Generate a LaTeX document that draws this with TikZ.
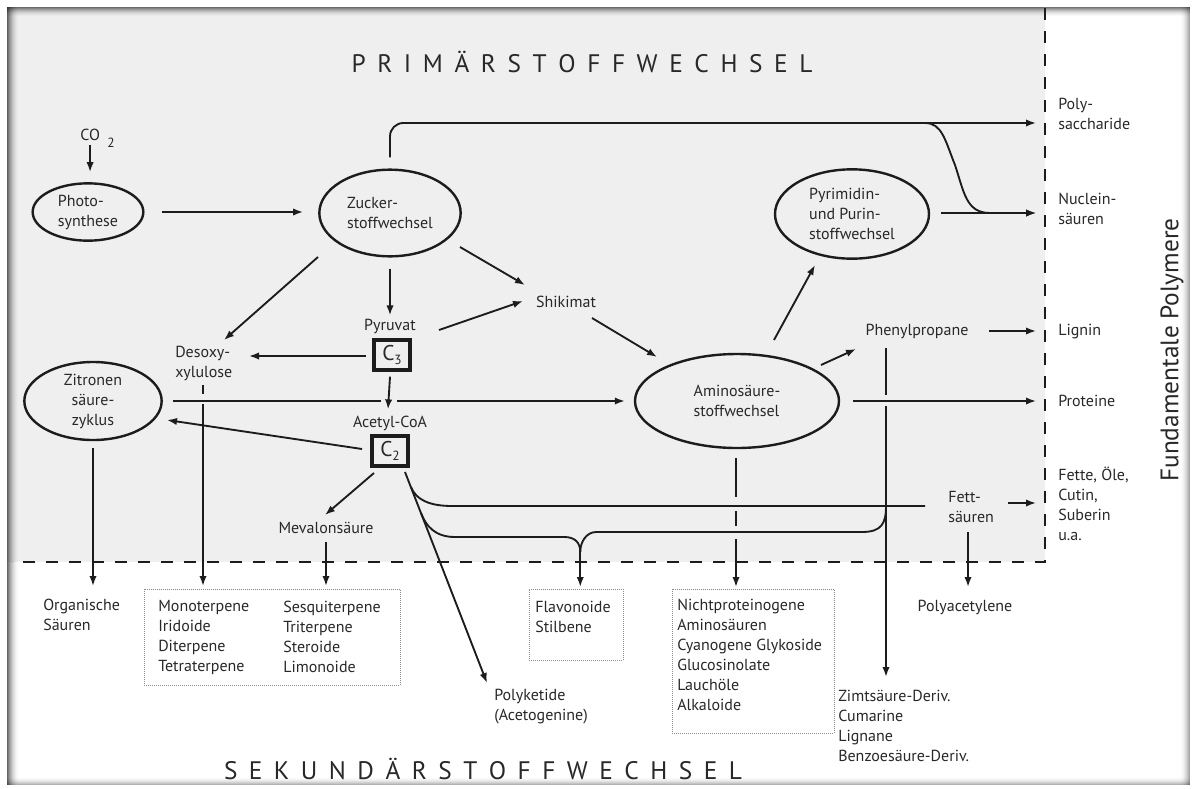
\documentclass[tikz,border=0pt]{standalone}
\usepackage{fontspec}
\setmainfont{PT Sans}
\usetikzlibrary{arrows.meta,shapes.geometric,calc}
\definecolor{bggray}{RGB}{239,239,239}
\definecolor{ink}{RGB}{28,28,28}
\definecolor{txt}{RGB}{40,40,40}
\begin{document}
\begin{tikzpicture}[x=0.75pt,y=-0.75pt,
  lbl/.style={inner sep=0pt, text=txt, font=\fontsize{12}{15}\selectfont, align=left},
  ell/.style={ellipse, draw=ink, line width=1.8pt, inner sep=0pt, text=txt, font=\fontsize{12}{15}\selectfont, align=left},
  cbox/.style={draw=ink, line width=3pt, minimum width=27.5pt, minimum height=22pt, inner sep=0pt, text=txt, font=\fontsize{16}{16}\selectfont},
  ln/.style={draw=ink, line width=1.4pt},
  arr/.style={ln, -{Latex[length=7.5pt,width=5.5pt]}},
  dotbox/.style={draw=black!45, line width=0.4pt, dash pattern=on 0.75pt off 0.75pt, inner sep=0pt},
  sepline/.style={draw=ink, line width=2pt, dash pattern=on 9pt off 8.25pt},
  title/.style={inner sep=0pt, text=txt, font=\fontsize{19}{19}\selectfont}
]
\path[use as bounding box] (0,0) rectangle (1196,789);
\fill[white] (0,0) rectangle (1196,789);
\fill[bggray] (7,7) rectangle (1045,562);
% frame shadows
\foreach \i [evaluate=\i as \op using {0.6*(1-\i/12)^2}] in {0,...,11}
  {\fill[black, opacity=\op] (7+\i,7) rectangle (8+\i,785);}
\foreach \i [evaluate=\i as \op using {0.55*(1-\i/10)^2}] in {0,...,9}
  {\fill[black, opacity=\op] (7,7+\i) rectangle (1190,8+\i);}
\foreach \i [evaluate=\i as \op using {0.35*(1-\i/10)^2}] in {0,...,9}
  {\fill[black, opacity=\op] (1190-\i,7) rectangle (1189-\i,785);}
\foreach \i [evaluate=\i as \op using {0.3*(1-\i/8)^2}] in {0,...,7}
  {\fill[black, opacity=\op] (7,785-\i) rectangle (1190,784-\i);}
% separators
\draw[sepline] (1045,8) -- (1045,562) -- (12,562);

% titles
\node[title] (prim) at (582,62) {\makebox[345.75pt][s]{P R I M Ä R S T O F F W E C H S E L}};
\node[title] (sek) at (483,769) {\makebox[388.5pt][s]{S E K U N D Ä R S T O F F W E C H S E L}};
\node[title, rotate=90] (fund) at (1172,350) {Fundamentale Polymere};

% nodes
\node[lbl, anchor=west] (co2) at (80,135) {CO};
\node[lbl, anchor=west, font=\fontsize{10}{10}\selectfont] (co2i) at (107,143) {2};
\node[ell, minimum width=83pt, minimum height=43pt] (photo) at (88,212) {Photo-\\synthese};
\node[ell, minimum width=106pt, minimum height=65pt] (zucker) at (390,213) {Zucker-\\stoffwechsel};
\node[ell, minimum width=115.5pt, minimum height=67pt] (pyr) at (852,214) {Pyrimidin-\\und Purin-\\stoffwechsel};
\node[ell, align=center, minimum width=103pt, minimum height=58.5pt] (zit) at (93,401) {Zitronen\\säure-\\zyklus};
\node[ell, minimum width=153pt, minimum height=70.5pt] (amino) at (737,401) {Aminosäure-\\stoffwechsel};
\node[lbl] (shik) at (566,302) {Shikimat};
\node[lbl] (pyruvat) at (390,326) {Pyruvat};
\node[cbox] (c3) at (392,355) {C\raisebox{-3.5pt}{\fontsize{10}{10}\selectfont 3}};
\node[lbl] (acetyl) at (390,423) {Acetyl-CoA};
\node[cbox] (c2) at (390,451) {C\raisebox{-3.5pt}{\fontsize{10}{10}\selectfont 2}};
\node[lbl, anchor=west] (desoxy) at (175,363) {Desoxy-\\xylulose};
\node[lbl] (meval) at (326,528) {Mevalonsäure};
\node[lbl] (phenyl) at (917,331) {Phenylpropane};
\node[lbl, anchor=west] (fett) at (948,507) {Fett-\\säuren};

\node[lbl, anchor=west] (poly) at (1058,114) {Poly-\\saccharide};
\node[lbl, anchor=west] (nuc) at (1058,209) {Nuclein-\\säuren};
\node[lbl, anchor=west] (lignin) at (1058,332) {Lignin};
\node[lbl, anchor=west] (prot) at (1058,401) {Proteine};
\node[lbl, anchor=west] (fette) at (1058,504) {Fette, Öle,\\Cutin,\\Suberin\\u.a.};

\node[lbl, anchor=west] (organ) at (43,615) {Organische\\Säuren};
\node[dotbox, anchor=north west, minimum width=192pt, minimum height=72pt] (terp) at (144,589) {};
\node[lbl, anchor=west] (terpA) at (158,637) {Monoterpene\\Iridoide\\Diterpene\\Tetraterpene};
\node[lbl, anchor=west] (terpB) at (283,637) {Sesquiterpene\\Triterpene\\Steroide\\Limonoide};
\node[dotbox, anchor=north west, minimum width=70.5pt, minimum height=53.25pt] (flav) at (529,589) {};
\node[lbl, anchor=west] (flavt) at (535,617) {Flavonoide\\Stilbene};
\node[dotbox, anchor=north west, minimum width=121.5pt, minimum height=108pt] (nicht) at (672,589) {};
\node[lbl, anchor=west] (nichtt) at (677,655) {Nichtproteinogene\\Aminosäuren\\Cyanogene Glykoside\\Glucosinolate\\Lauchöle\\Alkaloide};
\node[lbl, anchor=west] (polyket) at (494,707) {Polyketide\\(Acetogenine)};
\node[lbl, anchor=west] (zimt) at (838,726) {Zimtsäure-Deriv.\\Cumarine\\Lignane\\Benzoesäure-Deriv.};
\node[lbl] (polyac) at (965,607) {Polyacetylene};

% connectors
\draw[arr] ($(co2.south)+(0,4)$) -- ($(co2.south |- photo.north)+(0,-10)$);
\draw[arr] ($(photo.east)+(17,0)$) -- ($(zucker.west)+(-15,-1)$);
\draw[arr, rounded corners=10pt] ($(zucker.north)+(0,-11)$) -- ($(zucker.north |- poly.west)+(0,9)$) -- ($(poly.west)+(-22,9)$);
\draw[arr] ($(poly.west)+(-133,9)$) .. controls +(17,0) and +(-10,-25) .. ($(poly.west)+(-103,51)$)
   .. controls +(9,27) and +(-24,0) .. ($(nuc.west)+(-68,4)$) -- ($(nuc.west)+(-22,4)$);
\draw[arr] ($(pyr.east)+(11,-1)$) -- ($(nuc.west)+(-22,4)$);

\draw[arr] ($(zucker)+(-72,44)$) -- ($(desoxy.west)+(49,-23)$);
\draw[arr] ($(zucker.south)+(0,11)$) -- ($(pyruvat.north)+(0,-3)$);
\draw[arr] ($(zucker)+(70,34)$) -- ($(shik)+(-41,-17)$);
\draw[arr] ($(pyruvat)+(49,4)$) -- ($(shik)+(-43,-1)$);
\draw[arr] ($(shik)+(26,16)$) -- ($(amino)+(-80,-44)$);
\draw[arr] ($(c3)+(-26,1)$) -- ($(desoxy.west)+(74,-7)$);
\draw[arr] ($(c3.south)+(-2,5)$) -- ($(acetyl.north)+(-2,-6)$);

\draw[ln] ($(zit.east)+(10,0)$) -- ($(c3.south |- zit.east)+(-11,0)$);
\draw[arr] ($(c3.south |- zit.east)+(5,0)$) -- ($(amino.west)+(-9,0)$);

\draw[arr] ($(c2)+(-28,-2)$) -- ($(zit)+(74,19)$);
\draw[arr] ($(c2)+(-16,22)$) -- ($(meval)+(-1,-13)$);
\draw[arr] ($(meval)+(0,14)$) -- ($(meval |- terp.north)+(0,-3)$);
\draw[arr] ($(zit.south)+(0,7)$) -- ($(zit.south |- terp.north)+(0,-3)$);
\draw[ln] ($(desoxy.west)+(28,22)$) -- ($(desoxy.west)+(28,31)$);
\draw[arr] ($(desoxy.west)+(28,41)$) -- ($(desoxy.west |- terp.north)+(28,-3)$);

% acetyl-CoA branches
\draw[arr] ($(c2)+(15,21)$) -- ($(polyket.west)+(-7,-24)$);
\draw[ln] ($(c2)+(21,36)$) .. controls +(5,13) and +(-22,0) .. ($(c2)+(62,55)$) -- ($(fett.west)+(-23,-1)$);
\draw[ln] ($(c2)+(31,62)$) .. controls +(5,13) and +(-20,0) .. ($(c2)+(65,86)$) -- ($(flav.north)+(-12,-52)$)
   .. controls +(10,0) and +(0,-10) .. ($(flav.north)+(4,-37)$);
\draw[ln] ($(phenyl)+(-31,175)$) .. controls +(0,17) and +(20,0) .. ($(phenyl)+(-55,201)$) -- ($(flav.north)+(20,-57)$)
   .. controls +(-10,0) and +(0,-10) .. ($(flav.north)+(4,-37)$);
\draw[arr] ($(flav.north)+(4,-38)$) -- ($(flav.north)+(4,-2)$);

% amino acid metabolism
\draw[ln] ($(amino)+(-1,57)$) -- ($(amino)+(-1,96)$);
\draw[ln] ($(amino)+(-1,110)$) -- ($(amino)+(-1,125)$);
\draw[arr] ($(amino)+(-1,138)$) -- ($(amino |- nicht.north)+(-1,-2)$);
\draw[arr] ($(amino.east)+(13,0)$) -- ($(prot.west)+(-22,0)$);
\draw[arr] ($(amino)+(37,-61)$) -- ($(pyr)+(-37,51)$);
\draw[arr] ($(amino)+(84,-36)$) -- ($(phenyl)+(-61,18)$);
\draw[arr] ($(phenyl)+(72,0)$) -- ($(lignin.west)+(-22,-1)$);
\draw[ln] ($(phenyl)+(-31,17)$) -- ($(phenyl)+(-31,64)$);
\draw[arr] ($(phenyl)+(-31,75)$) -- ($(phenyl)+(-31,346)$);

% fatty acids
\draw[arr] ($(fett.west)+(60,-4)$) -- ($(fette.west)+(-22,-1)$);
\draw[arr] ($(fett.west)+(20,25)$) -- ($(fett.west)+(20,80)$);
\end{tikzpicture}
\end{document}
